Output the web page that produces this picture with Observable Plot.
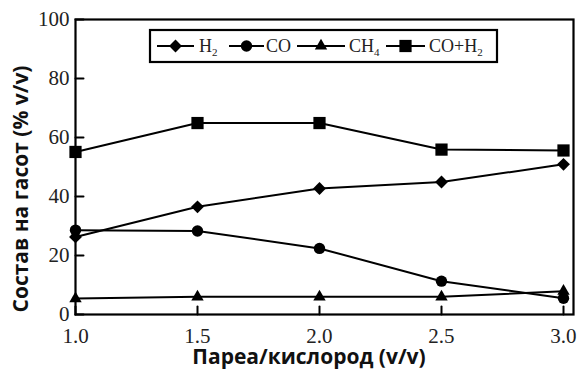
<!DOCTYPE html>
<html><head><meta charset="utf-8">
<script src="https://cdn.jsdelivr.net/npm/d3@7"></script>
<script src="https://cdn.jsdelivr.net/npm/@observablehq/plot@0.6"></script>
<style>body{margin:0;background:#fff}</style>
</head><body><div id="chart"></div>
<script>
const ratios = [1.0, 1.5, 2.0, 2.5, 3.0];
const h2 = [26.3, 36.5, 42.7, 44.9, 50.9];
const co = [28.6, 28.3, 22.4, 11.3, 5.5];
const ch4 = [5.4, 6.0, 6.0, 6.0, 7.9];
const coh2 = [55.1, 64.9, 64.9, 55.9, 55.6];
const seriesNames = ["H₂", "CO", "CH₄", "CO+H₂"];
const seriesValues = [h2, co, ch4, coh2];
const xTicks = [1.0, 1.5, 2.0, 2.5, 3.0];
const yTicks = [0, 20, 40, 60, 80, 100];
const xLabel = "Пареа/кислород (v/v)";
const yLabel = "Состав на гасот (% v/v)";

const symbols = [d3.symbolDiamond2, d3.symbolCircle, d3.symbolTriangle, d3.symbolSquare];
const radii = [5.8, 5.7, 4.6, 6.9];

const rows = [];
seriesNames.forEach((s, i) => ratios.forEach((r, j) => rows.push({ratio: r, value: seriesValues[i][j], series: s})));

const serif = "'Liberation Serif', 'Times New Roman', serif";
const sans = "'Open Sans', 'DejaVu Sans', sans-serif";
const tickShape = {draw(ctx, l) { ctx.moveTo(0, 0); ctx.lineTo(0, -l); }};

const marks = [
  Plot.axisY(yTicks, {tickSize: 0, tickPadding: 6, fontSize: 21, fontFamily: serif, fill: "#222", label: null}),
  Plot.axisX(xTicks, {tickSize: 0, tickPadding: 14, fontSize: 21, fontFamily: serif, fill: "#222", tickFormat: d3.format(".1f"), label: null}),
  Plot.vector(yTicks, {y: d => d, frameAnchor: "left", length: 8, rotate: 90, anchor: "start", shape: tickShape, stroke: "black", strokeWidth: 2}),
  Plot.vector(xTicks, {x: d => d, frameAnchor: "bottom", length: 8, rotate: 0, anchor: "start", shape: tickShape, stroke: "black", strokeWidth: 2}),
  Plot.frame({strokeWidth: 2.2})
];
seriesNames.forEach((s, i) => {
  const d = rows.filter(r => r.series === s);
  marks.push(Plot.line(d, {x: "ratio", y: "value", stroke: "black", strokeWidth: 2}));
  marks.push(Plot.dot(d, {x: "ratio", y: "value", symbol: () => symbols[i], r: radii[i], fill: "black", stroke: "none"}));
});

const chart = Plot.plot({
  width: 578, height: 374,
  marginLeft: 75, marginRight: 5, marginTop: 19, marginBottom: 60,
  x: {domain: [1, 3.041], label: null},
  y: {domain: [0, 100], label: null},
  symbol: {type: "identity"},
  style: {background: "white", color: "black", overflow: "visible"},
  marks
});

const svg = d3.select(chart);
// axis titles
svg.append("text").attr("x", 309).attr("y", 364).attr("text-anchor", "middle")
  .attr("font-family", sans).attr("font-weight", "bold").attr("font-size", 21).attr("fill", "#111").text(xLabel);
svg.append("text").attr("transform", "translate(28,189) rotate(-90)").attr("text-anchor", "middle")
  .attr("font-family", sans).attr("font-weight", "bold").attr("font-size", 21).attr("fill", "#111").text(yLabel);

// legend
const lg = svg.append("g");
lg.append("rect").attr("x", 150).attr("y", 30).attr("width", 347).attr("height", 32)
  .attr("fill", "white").attr("stroke", "black").attr("stroke-width", 2.2);
const entries = [
  {x1: 157, x2: 194, tx: 199},
  {x1: 229, x2: 264, tx: 266},
  {x1: 297, x2: 345, tx: 349},
  {x1: 386, x2: 425, tx: 429}
];
const ly = 46;
entries.forEach((e, i) => {
  lg.append("line").attr("x1", e.x1).attr("x2", e.x2).attr("y1", ly).attr("y2", ly).attr("stroke", "black").attr("stroke-width", 2);
  lg.append("path").attr("transform", `translate(${(e.x1 + e.x2) / 2},${ly})`)
    .attr("d", d3.symbol(symbols[i], Math.PI * radii[i] * radii[i])()).attr("fill", "black");
  const t = lg.append("text").attr("x", e.tx).attr("y", ly).attr("dy", "0.35em").attr("text-anchor", "start")
    .attr("font-family", serif).attr("font-size", 18).attr("fill", "#222");
  const name = seriesNames[i];
  const m = name.match(/^(.*?)([₂₄])?$/);
  t.append("tspan").text(m[1]);
  if (m[2]) t.append("tspan").attr("font-size", 11).attr("dy", "0.3em").text(m[2] === "₂" ? "2" : "4");
});

document.getElementById("chart").appendChild(chart);
</script>
</body></html>
